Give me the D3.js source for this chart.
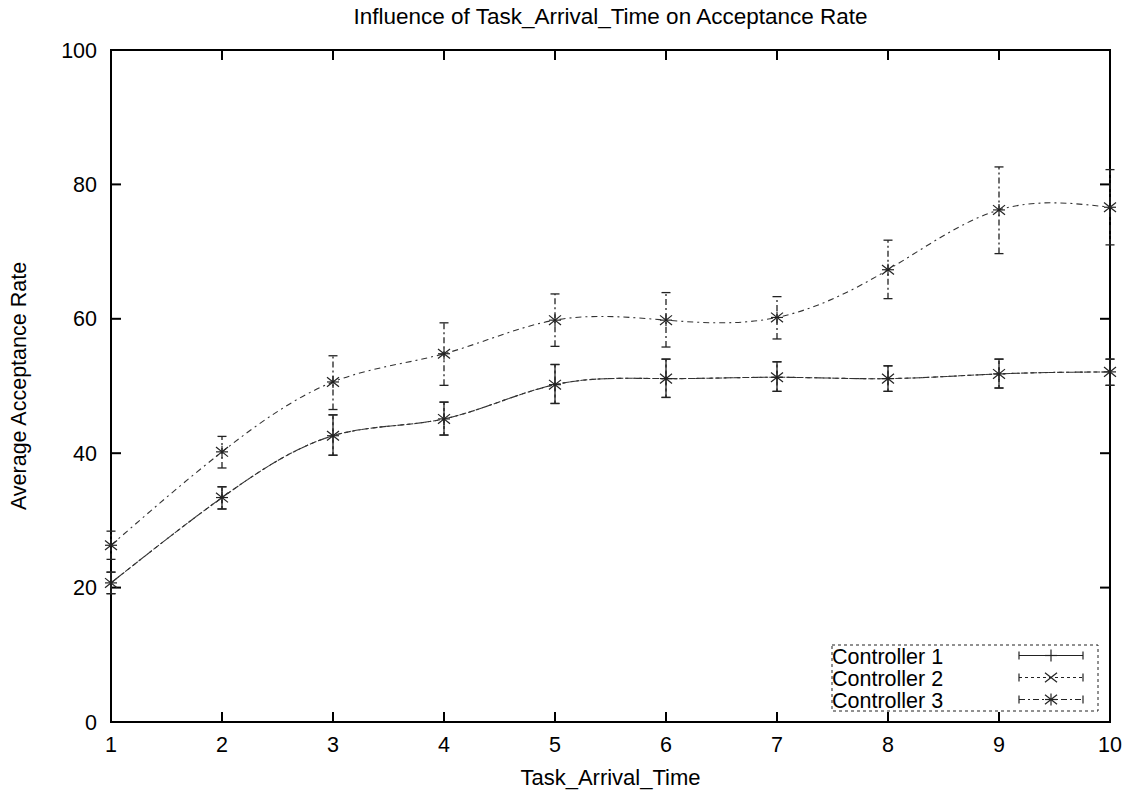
<!DOCTYPE html>
<html>
<head>
<meta charset="utf-8">
<script src="https://cdn.jsdelivr.net/npm/d3@7"></script>
<style>
  body { margin: 0; background: #fff; }
  svg { font-family: "Liberation Sans", Arial, sans-serif; }
</style>
</head>
<body>
<div id="chart"></div>
<script>
// data
const arrivalTimes = [1, 2, 3, 4, 5, 6, 7, 8, 9, 10];
const seriesNames = ['Controller 1', 'Controller 2', 'Controller 3'];
const ctrl1Mean = [20.7, 33.4, 42.6, 45.1, 50.2, 51.1, 51.3, 51.1, 51.8, 52.1];
const ctrl1Low  = [19.1, 31.7, 39.7, 42.7, 47.4, 48.3, 49.2, 49.2, 49.7, 50.1];
const ctrl1High = [22.3, 35.0, 45.7, 47.6, 53.2, 54.0, 53.6, 53.0, 54.0, 54.0];
const ctrl2Mean = [20.7, 33.4, 42.6, 45.1, 50.2, 51.1, 51.3, 51.1, 51.8, 52.1];
const ctrl2Low  = [19.1, 31.7, 39.7, 42.7, 47.4, 48.3, 49.2, 49.2, 49.7, 50.1];
const ctrl2High = [22.3, 35.0, 45.7, 47.6, 53.2, 54.0, 53.6, 53.0, 54.0, 54.0];
const ctrl3Mean = [26.3, 40.2, 50.6, 54.8, 59.8, 59.8, 60.2, 67.3, 76.2, 76.6];
const ctrl3Low  = [24.2, 37.8, 46.5, 50.1, 55.9, 55.8, 57.0, 63.0, 69.7, 71.0];
const ctrl3High = [28.4, 42.5, 54.5, 59.4, 63.7, 63.9, 63.3, 71.7, 82.6, 82.2];
const xTicks = [1, 2, 3, 4, 5, 6, 7, 8, 9, 10];
const yTicks = [0, 20, 40, 60, 80, 100];

const W = 1136, H = 793;
const margin = { top: 50, right: 26, bottom: 71, left: 111 };
const fontSize = 21.5;

const svg = d3.select('#chart').append('svg')
  .attr('width', W)
  .attr('height', H);

const x = d3.scaleLinear().domain([1, 10]).range([margin.left, W - margin.right]);
const y = d3.scaleLinear().domain([0, 100]).range([H - margin.bottom, margin.top]);

const series = [
  { name: seriesNames[0], mean: ctrl1Mean, low: ctrl1Low, high: ctrl1High, marker: 'plus',  dash: null,      curveDash: '7,2',     color: '#222' },
  { name: seriesNames[1], mean: ctrl2Mean, low: ctrl2Low, high: ctrl2High, marker: 'cross', dash: '3,3',     curveDash: '3,4',     color: '#222' },
  { name: seriesNames[2], mean: ctrl3Mean, low: ctrl3Low, high: ctrl3High, marker: 'star',  dash: '6,3,2,3', curveDash: '6,4,2,4', color: '#222' }
];

// frame + ticks (gnuplot style: inward, mirrored)
const frame = svg.append('g');
const tickLen = 10;
frame.append('rect')
  .attr('x', x(1)).attr('y', y(100))
  .attr('width', x(10) - x(1)).attr('height', y(0) - y(100))
  .attr('fill', 'none').attr('stroke', '#000').attr('stroke-width', 2);

yTicks.forEach(t => {
  frame.append('line').attr('x1', x(1)).attr('x2', x(1) + tickLen)
    .attr('y1', y(t)).attr('y2', y(t)).attr('stroke', '#000').attr('stroke-width', 2);
  frame.append('line').attr('x1', x(10)).attr('x2', x(10) - tickLen)
    .attr('y1', y(t)).attr('y2', y(t)).attr('stroke', '#000').attr('stroke-width', 2);
  frame.append('text').attr('x', x(1) - 14).attr('y', y(t) + 7.5)
    .attr('text-anchor', 'end').attr('font-size', fontSize).text(t);
});
xTicks.forEach(t => {
  frame.append('line').attr('x1', x(t)).attr('x2', x(t))
    .attr('y1', y(0)).attr('y2', y(0) - tickLen).attr('stroke', '#000').attr('stroke-width', 2);
  frame.append('line').attr('x1', x(t)).attr('x2', x(t))
    .attr('y1', y(100)).attr('y2', y(100) + tickLen).attr('stroke', '#000').attr('stroke-width', 2);
  frame.append('text').attr('x', x(t)).attr('y', y(0) + 30)
    .attr('text-anchor', 'middle').attr('font-size', fontSize).text(t);
});

// titles
svg.append('text').attr('x', (x(1) + x(10)) / 2).attr('y', 24)
  .attr('text-anchor', 'middle').attr('font-size', 22.5)
  .text('Influence of Task_Arrival_Time on Acceptance Rate');
svg.append('text').attr('x', (x(1) + x(10)) / 2).attr('y', 785)
  .attr('text-anchor', 'middle').attr('font-size', 22)
  .text('Task_Arrival_Time');
svg.append('text')
  .attr('transform', 'translate(26,' + ((y(0) + y(100)) / 2) + ') rotate(-90)')
  .attr('text-anchor', 'middle').attr('font-size', fontSize)
  .text('Average Acceptance Rate');

function drawMarker(g, type, cx, cy, color) {
  const r = 6;
  if (type === 'plus' || type === 'star') {
    g.append('line').attr('x1', cx - r).attr('x2', cx + r).attr('y1', cy).attr('y2', cy)
      .attr('stroke', color).attr('stroke-width', 1.2);
    g.append('line').attr('x1', cx).attr('x2', cx).attr('y1', cy - r).attr('y2', cy + r)
      .attr('stroke', color).attr('stroke-width', 1.2);
  }
  if (type === 'cross' || type === 'star') {
    g.append('line').attr('x1', cx - r).attr('x2', cx + r).attr('y1', cy - r * 0.8).attr('y2', cy + r * 0.8)
      .attr('stroke', color).attr('stroke-width', 1.2);
    g.append('line').attr('x1', cx - r).attr('x2', cx + r).attr('y1', cy + r * 0.8).attr('y2', cy - r * 0.8)
      .attr('stroke', color).attr('stroke-width', 1.2);
  }
}

const line = d3.line().curve(d3.curveNatural)
  .x((d, i) => x(arrivalTimes[i]))
  .y(d => y(d));

const plot = svg.append('g');
const capW = 4.5;

// draw series 3 first so the overlapping lower pair sits on top
[series[2], series[1], series[0]].forEach(s => {
  const g = plot.append('g');
  g.append('path')
    .attr('d', line(s.mean))
    .attr('fill', 'none')
    .attr('stroke', '#333')
    .attr('stroke-width', 1.1)
    .attr('stroke-dasharray', s.curveDash);

  arrivalTimes.forEach((t, i) => {
    const px = x(t);
    g.append('line').attr('x1', px).attr('x2', px)
      .attr('y1', y(s.low[i])).attr('y2', y(s.high[i]))
      .attr('stroke', s.color).attr('stroke-width', 1.3)
      .attr('stroke-dasharray', s.dash);
    [s.low[i], s.high[i]].forEach(v => {
      g.append('line').attr('x1', px - capW).attr('x2', px + capW)
        .attr('y1', y(v)).attr('y2', y(v))
        .attr('stroke', s.color).attr('stroke-width', 1.3);
    });
    drawMarker(g, s.marker, px, y(s.mean[i]), s.color);
  });
});

// legend
const legend = svg.append('g');
const lgX = 832, lgY = 645, lgW = 266, lgH = 66;
legend.append('rect')
  .attr('x', lgX).attr('y', lgY).attr('width', lgW).attr('height', lgH)
  .attr('fill', '#fff').attr('stroke', '#222').attr('stroke-width', 1)
  .attr('stroke-dasharray', '3,3');

series.forEach((s, i) => {
  const cy = 655.5 + i * 22;
  legend.append('text').attr('x', lgX).attr('y', cy + 8.5)
    .attr('font-size', fontSize).text(s.name);
  const x1 = 1019, x2 = 1083, xm = (x1 + x2) / 2;
  legend.append('line').attr('x1', x1).attr('x2', x2).attr('y1', cy).attr('y2', cy)
    .attr('stroke', s.color).attr('stroke-width', 1.2).attr('stroke-dasharray', s.dash);
  [x1, x2].forEach(ex => {
    legend.append('line').attr('x1', ex).attr('x2', ex).attr('y1', cy - 4).attr('y2', cy + 4)
      .attr('stroke', s.color).attr('stroke-width', 1.2);
  });
  drawMarker(legend, s.marker, xm, cy, s.color);
});
</script>
</body>
</html>
